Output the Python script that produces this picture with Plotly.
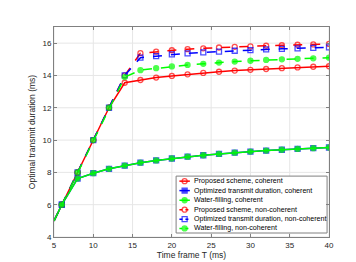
import plotly.graph_objects as go

T = [5, 6, 8, 10, 12, 14, 16, 18, 20, 22, 24, 26, 28, 30, 32, 34, 36, 38, 40]

prop_coh = [5, 6, 8, 10, 12, 13.55, 13.72, 13.87, 13.97, 14.07, 14.16, 14.23, 14.30, 14.35, 14.40, 14.45, 14.50, 14.54, 14.57]
opt_coh = [5, 6, 7.62, 7.95, 8.22, 8.42, 8.60, 8.74, 8.86, 8.97, 9.06, 9.14, 9.22, 9.29, 9.35, 9.40, 9.45, 9.50, 9.54]
wf_coh = [5, 6, 7.62, 7.95, 8.22, 8.42, 8.60, 8.74, 8.86, 8.97, 9.06, 9.14, 9.22, 9.29, 9.35, 9.40, 9.45, 9.50, 9.54]
prop_ncoh = [5, 6, 8, 10, 12, 14.0, 15.38, 15.47, 15.56, 15.63, 15.68, 15.73, 15.77, 15.80, 15.84, 15.87, 15.90, 15.92, 15.95]
opt_ncoh = [5, 6, 8, 10, 12, 14.0, 15.10, 15.20, 15.30, 15.37, 15.43, 15.48, 15.53, 15.57, 15.61, 15.65, 15.68, 15.71, 15.74]
wf_ncoh = [5, 6, 8, 10, 12, 13.9, 14.33, 14.45, 14.56, 14.65, 14.72, 14.80, 14.86, 14.91, 14.96, 15.00, 15.03, 15.06, 15.10]

names = ["Proposed scheme, coherent", "Optimized transmit duration, coherent", "Water-filling, coherent",
         "Proposed scheme, non-coherent", "Optimized transmit duration, non-coherent", "Water-filling, non-coherent"]

X_TICKS = [5, 10, 15, 20, 25, 30, 35, 40]
Y_TICKS = [4, 6, 8, 10, 12, 14, 16]
X_RANGE = [5, 40]
Y_RANGE = [4, 17]

RED, BLUE, GREEN = "#FF0000", "#0000FF", "#00FF00"
specs = [
    (prop_coh, RED, "solid", "circle-open"),
    (opt_coh, BLUE, "solid", "square"),
    (wf_coh, GREEN, "solid", "circle"),
    (prop_ncoh, RED, "dash", "circle-open"),
    (opt_ncoh, BLUE, "dash", "square-open"),
    (wf_ncoh, GREEN, "dash", "circle"),
]

FONT = "Liberation Sans, Arial"
msize = [0] + [5] * (len(T) - 1)

fig = go.Figure()
for name, (y, c, dash, sym) in zip(names, specs):
    fig.add_trace(go.Scatter(
        x=T, y=y, name=name, mode="lines+markers", showlegend=False,
        line=dict(color=c, width=1.5, dash=dash),
        marker=dict(symbol=sym, size=msize, color=c, line=dict(color=c, width=1.3)),
    ))

# Grid lines drawn as shapes beneath the legend box
GRID = "#E6E6E6"
for xv in X_TICKS:
    fig.add_shape(type="line", xref="x", yref="y domain", x0=xv, x1=xv, y0=0, y1=1,
                  line=dict(color=GRID, width=1), layer="below")
for yv in Y_TICKS:
    fig.add_shape(type="line", xref="x domain", yref="y", x0=0, x1=1, y0=yv, y1=yv,
                  line=dict(color=GRID, width=1), layer="below")

# Compact MATLAB-style legend, laid out in plot-area fractions (0..1)
def fx(f):
    return X_RANGE[0] + f * (X_RANGE[1] - X_RANGE[0])

def fy(f):
    return Y_RANGE[0] + f * (Y_RANGE[1] - Y_RANGE[0])

L_X0, L_X1, L_Y0, L_Y1 = 0.444, 0.993, 0.019, 0.290
row_y = [0.266, 0.221, 0.175, 0.130, 0.085, 0.041]
fig.add_shape(type="rect", xref="x domain", yref="y domain", x0=L_X0, x1=L_X1, y0=L_Y0, y1=L_Y1,
              line=dict(color="#808080", width=1), fillcolor="white", layer="below")
for name, (y, c, dash, sym), ry in zip(names, specs, row_y):
    fig.add_trace(go.Scatter(
        x=[fx(0.456), fx(0.475), fx(0.494)], y=[fy(ry)] * 3,
        mode="lines+markers", showlegend=False, hoverinfo="skip",
        line=dict(color=c, width=1.5, dash="dot" if dash == "dash" else "solid"),
        marker=dict(symbol=sym, size=[0, 5, 0], color=c, line=dict(color=c, width=1.3)),
    ))
    fig.add_annotation(x=0.501, y=ry, xref="x domain", yref="y domain", text=name, showarrow=False,
                       xanchor="left", yanchor="middle",
                       font=dict(family=FONT, size=7.1, color="#000000"))

axis_common = dict(
    showgrid=False,
    showline=True, linecolor="#808080", linewidth=1, mirror="ticks",
    ticks="inside", ticklen=3, tickcolor="#808080",
    tickfont=dict(family=FONT, size=8, color="#262626"),
    zeroline=False,
)

fig.update_layout(
    width=356, height=262,
    margin=dict(l=46, r=35, t=19, b=29),
    paper_bgcolor="white", plot_bgcolor="white",
    xaxis=dict(range=X_RANGE, tickvals=X_TICKS,
               title=dict(text="Time frame T (ms)", standoff=2,
                          font=dict(family=FONT, size=8.5, color="#262626")),
               **axis_common),
    yaxis=dict(range=Y_RANGE, tickvals=Y_TICKS,
               title=dict(text="Optimal transmit duration (ms)", standoff=5,
                          font=dict(family=FONT, size=8.5, color="#262626")),
               **axis_common),
    showlegend=False,
)

fig.write_html("out.html")
